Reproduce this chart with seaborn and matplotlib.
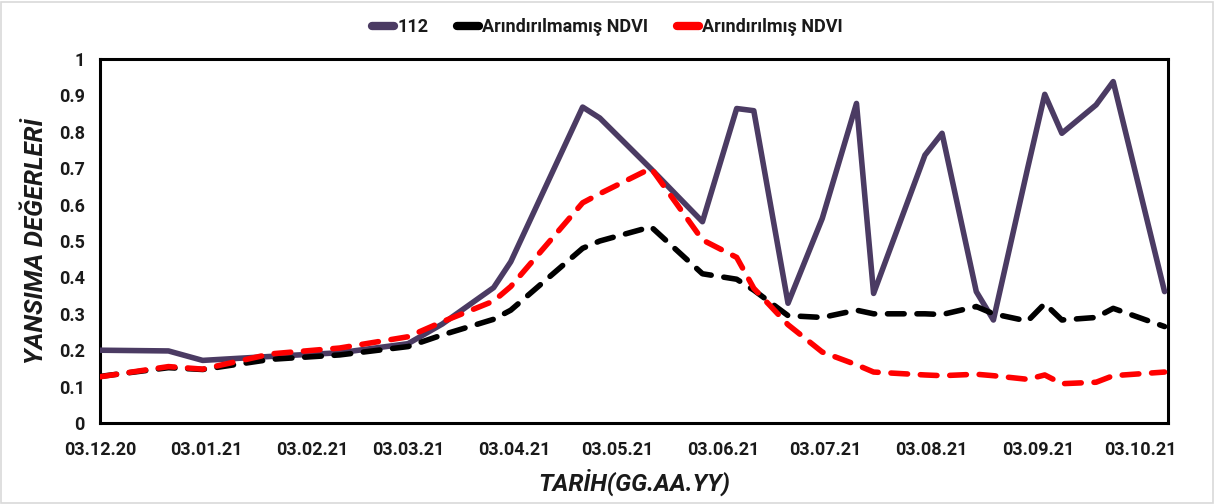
import matplotlib
matplotlib.use("Agg")
import matplotlib.pyplot as plt
from matplotlib.lines import Line2D
from matplotlib.patches import Rectangle
import seaborn as sns
import pandas as pd

dates = ['2020-12-03', '2020-12-23', '2021-01-02', '2021-01-22', '2021-02-11',
         '2021-03-03', '2021-03-13', '2021-03-28', '2021-04-02', '2021-04-23',
         '2021-04-28', '2021-05-13', '2021-05-28', '2021-06-07', '2021-06-12',
         '2021-06-22', '2021-07-02', '2021-07-12', '2021-07-17', '2021-08-01',
         '2021-08-06', '2021-08-16', '2021-08-21', '2021-08-31', '2021-09-05',
         '2021-09-10', '2021-09-20', '2021-09-25', '2021-10-10']

band_112 = [0.200, 0.198, 0.172, 0.183, 0.193, 0.218, 0.272, 0.372, 0.443, 0.868,
            0.838, 0.698, 0.553, 0.864, 0.858, 0.329, 0.562, 0.878, 0.356, 0.736,
            0.796, 0.361, 0.283, 0.700, 0.903, 0.796, 0.874, 0.938, 0.361]

raw_ndvi = [0.128, 0.152, 0.147, 0.175, 0.187, 0.210, 0.242, 0.285, 0.310, 0.480,
            0.500, 0.539, 0.410, 0.395, 0.365, 0.295, 0.290, 0.310, 0.300, 0.300,
            0.298, 0.320, 0.300, 0.280, 0.328, 0.283, 0.290, 0.315, 0.265]

clean_ndvi = [0.127, 0.155, 0.148, 0.190, 0.206, 0.237, 0.278, 0.335, 0.375, 0.605,
              0.630, 0.700, 0.503, 0.455, 0.370, 0.270, 0.195, 0.160, 0.140, 0.132,
              0.130, 0.134, 0.130, 0.120, 0.132, 0.108, 0.112, 0.130, 0.140]

series_names = ['112', 'Arındırılmamış NDVI', 'Arındırılmış NDVI']
series_colors = ['#4B3B63', '#000000', '#FF0000']

xtick_dates = ['2020-12-03', '2021-01-03', '2021-02-03', '2021-03-03', '2021-04-03',
               '2021-05-03', '2021-06-03', '2021-07-03', '2021-08-03', '2021-09-03',
               '2021-10-03']
xtick_labels = ['03.12.20', '03.01.21', '03.02.21', '03.03.21', '03.04.21', '03.05.21',
                '03.06.21', '03.07.21', '03.08.21', '03.09.21', '03.10.21']
ytick_vals = [0, 0.1, 0.2, 0.3, 0.4, 0.5, 0.6, 0.7, 0.8, 0.9, 1.0]
ytick_labels = ['0', '0.1', '0.2', '0.3', '0.4', '0.5', '0.6', '0.7', '0.8', '0.9', '1']

df = pd.DataFrame({
    'date': pd.to_datetime(dates * 3),
    'value': band_112 + raw_ndvi + clean_ndvi,
    'series': [series_names[0]] * len(dates) + [series_names[1]] * len(dates) + [series_names[2]] * len(dates),
})

sns.set_style('white')
plt.rcParams['font.family'] = ['Roboto', 'DejaVu Sans']

fig = plt.figure(figsize=(12.15, 5.04), dpi=100)
ax = fig.add_axes([0.0823, 0.1607, 0.879, 0.7222])

dash = (3.0, 2.3)
sns.lineplot(data=df, x='date', y='value', hue='series', style='series',
             hue_order=series_names, style_order=series_names,
             palette=dict(zip(series_names, series_colors)),
             dashes={series_names[0]: '', series_names[1]: dash, series_names[2]: dash},
             linewidth=4.0, sort=False, errorbar=None, legend=False, ax=ax)

for i, ln in enumerate(ax.get_lines()[:3]):
    ln.set_dash_capstyle('round')
    ln.set_solid_capstyle('round')
    ln.set_solid_joinstyle('round')
    ln.set_dash_joinstyle('round')
    ln.set_zorder(3 + i)

ax.set_xlim(pd.Timestamp('2020-12-03'), pd.Timestamp('2021-10-11'))
ax.set_ylim(0, 1)
ax.set_xticks(pd.to_datetime(xtick_dates))
ax.set_xticklabels(xtick_labels)
ax.set_yticks(ytick_vals)
ax.set_yticklabels(ytick_labels)

ax.tick_params(axis='both', which='major', direction='out', length=5, width=2,
               color='black', labelsize=13, pad=6)
for lab in ax.get_xticklabels() + ax.get_yticklabels():
    lab.set_fontweight('bold')
    lab.set_color('#1a1a1a')
ax.tick_params(axis='x', pad=8)

for s in ax.spines.values():
    s.set_visible(True)
    s.set_color('black')
    s.set_linewidth(2.2)

ax.set_xlabel('TARİH(GG.AA.YY)', fontsize=17.5, fontweight='bold', fontstyle='italic',
              color='#1a1a1a', labelpad=7)
ax.set_ylabel('YANSIMA DEĞERLERİ', fontsize=18.5, fontweight='bold', fontstyle='italic',
              color='#1a1a1a', labelpad=8)

handles = [Line2D([0], [0], color=c, lw=6, solid_capstyle='round') for c in series_colors]
leg = fig.legend(handles, series_names, loc='center', bbox_to_anchor=(0.5, 0.946),
                 ncol=3, frameon=False, handlelength=1.2, handletextpad=0.2,
                 columnspacing=1.6, prop={'weight': 'bold', 'size': 13})
for t in leg.get_texts():
    t.set_color('#1a1a1a')

fig.patches.append(Rectangle((0.001, 0.002), 0.997, 0.995, transform=fig.transFigure,
                             fill=False, edgecolor='#D9D9D9', linewidth=1.2))

fig.savefig('out.png', dpi=100)
